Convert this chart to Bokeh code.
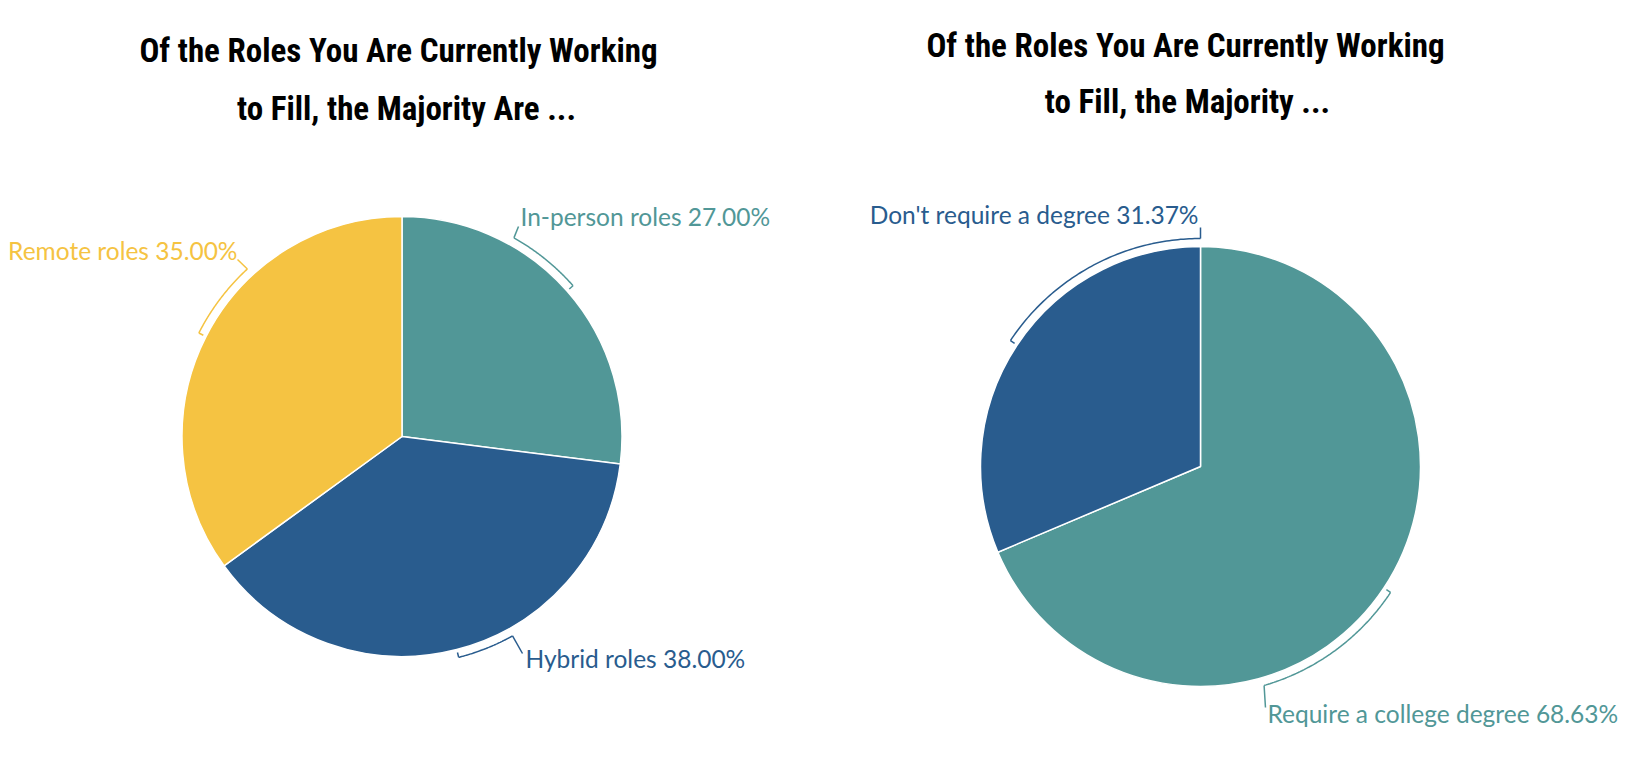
import numpy as np
from bokeh.plotting import figure
from bokeh.models import Range1d
from bokeh.core.properties import value
from bokeh.embed import file_html
from bokeh.resources import INLINE

# ---------------- data ----------------
left_title = ["Of the Roles You Are Currently Working", "to Fill, the Majority Are ..."]
left_labels = ["In-person roles", "Hybrid roles", "Remote roles"]
left_values = [27.00, 38.00, 35.00]
left_colors = ["#519797", "#295C8E", "#F5C342"]

right_title = ["Of the Roles You Are Currently Working", "to Fill, the Majority ..."]
right_labels = ["Require a college degree", "Don't require a degree"]
right_values = [68.63, 31.37]
right_colors = ["#519797", "#295C8E"]

# ---------------- layout (screen px, y down) ----------------
W, H = 1626, 768
R = 220
GAP = 8
TICK = 5
LABEL_FONT = "Lato"
LABEL_PX = 24.5
TITLE_FONT = "Roboto Condensed"
TITLE_PX = 33
BASELINE_FIX = 0.375  # em shift applied to alphabetic baselines

left_layout = dict(
    cx=401.5, cy=436, title_x=[398, 406], title_y=[62, 120],
    bracket_end=[60.6, -61.0, 132.7],
    leader_end=[(518, 226), (522, 653), (237, 259)],
    text_pos=[(520, 225), (525, 667), (237, 259)],
    align=["left", "left", "right"],
)
right_layout = dict(
    cx=1200, cy=466, title_x=[1185, 1187], title_y=[57, 113],
    bracket_end=[-73.8, 90.0],
    leader_end=[(1265, 707), (1200, 227)],
    text_pos=[(1267, 722), (1198, 223)],
    align=["left", "right"],
)

p = figure(width=W, height=H, output_backend="svg", toolbar_location=None,
           x_range=Range1d(0, W), y_range=Range1d(0, H),
           min_border=0, outline_line_color=None)
p.axis.visible = False
p.grid.visible = False
p.background_fill_color = "white"
p.border_fill_color = "white"


def Y(y):
    return H - y


def draw_pie(labels, values, colors, lay, title):
    cx, cy = lay["cx"], Y(lay["cy"])
    total = float(sum(values))
    fr = np.array(values) / total
    cum = np.concatenate([[0], np.cumsum(fr)])
    ends = np.deg2rad(90 - cum[:-1] * 360)
    starts = np.deg2rad(90 - cum[1:] * 360)
    p.wedge(x=[cx] * len(values), y=[cy] * len(values), radius=R,
            start_angle=list(starts), end_angle=list(ends),
            fill_color=colors, line_color="white", line_width=1.5)
    for i, (lab, v, col) in enumerate(zip(labels, values, colors)):
        mid = (starts[i] + ends[i]) / 2
        bend = np.deg2rad(lay["bracket_end"][i])
        bend = mid + ((bend - mid + np.pi) % (2 * np.pi) - np.pi)
        t = np.linspace(mid, bend, 80)
        rb = R + GAP
        p.line(cx + rb * np.cos(t), cy + rb * np.sin(t), line_color=col, line_width=1.5)
        p.segment(x0=[cx + rb * np.cos(mid)], y0=[cy + rb * np.sin(mid)],
                  x1=[cx + (rb - TICK) * np.cos(mid)], y1=[cy + (rb - TICK) * np.sin(mid)],
                  line_color=col, line_width=1.5)
        lx, ly = lay["leader_end"][i]
        p.segment(x0=[cx + rb * np.cos(bend)], y0=[cy + rb * np.sin(bend)],
                  x1=[lx], y1=[Y(ly)], line_color=col, line_width=1.5)
        tx, ty = lay["text_pos"][i]
        p.text(x=[tx], y=[Y(ty - BASELINE_FIX * LABEL_PX)], text=[f"{lab} {v:.2f}%"],
               text_color=col, text_font=value(LABEL_FONT), text_font_size=f"{LABEL_PX}px",
               text_align=lay["align"][i], text_baseline="alphabetic")
    for line, tx, ty in zip(title, lay["title_x"], lay["title_y"]):
        p.text(x=[tx], y=[Y(ty - BASELINE_FIX * TITLE_PX)], text=[line], text_color="#000000",
               text_font=value(TITLE_FONT), text_font_size=f"{TITLE_PX}px",
               text_font_style="bold", text_align="center", text_baseline="alphabetic")


draw_pie(left_labels, left_values, left_colors, left_layout, left_title)
draw_pie(right_labels, right_values, right_colors, right_layout, right_title)

open("out.html", "w").write(file_html(p, INLINE))
